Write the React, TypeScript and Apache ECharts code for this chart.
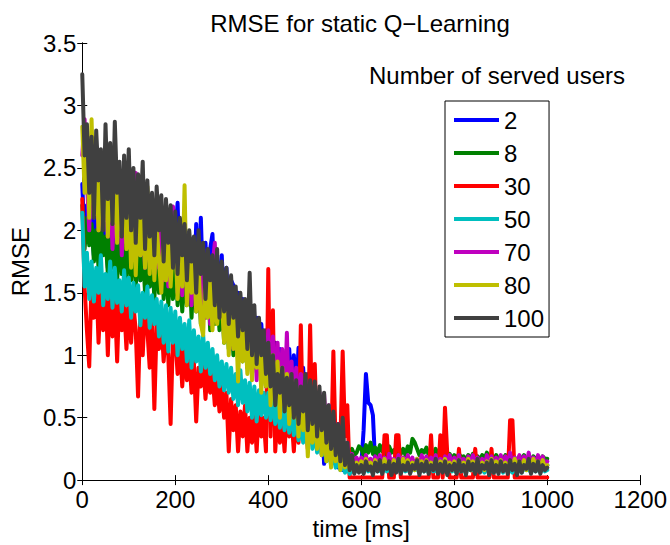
import React, { useEffect, useRef } from "react";
import * as echarts from "echarts";

// time grid (ms), one sample every 5 ms from 0 to 1000
const times: number[] = Array.from({ length: 201 }, (_, i) => i * 5);

const seriesNames = ["2", "8", "30", "50", "70", "80", "100"];
const seriesColors = ["#0000ff", "#008000", "#ff0000", "#00bfbf", "#bf00bf", "#bfbf00", "#404040"];

const xTicks = [0, 200, 400, 600, 800, 1000, 1200];
const yTicks = [0, 0.5, 1, 1.5, 2, 2.5, 3, 3.5];

const users2 = [
  2.37, 1.9, 2.2, 2.0, 2.15, 1.8, 2.1, 1.75, 2.2, 1.85, 2.05, 1.7, 2.1, 1.8, 2.0, 1.65, 2.05, 1.75, 1.95, 1.7,
  2.1, 1.7, 2.0, 1.75, 1.95, 1.6, 2.05, 1.65, 1.95, 1.55, 2.0, 1.6, 1.9, 1.65, 1.95, 1.55, 1.9, 1.5, 2.0, 1.6,
  1.95, 2.22, 1.6, 1.9, 1.5, 1.98, 1.55, 1.85, 1.45, 2.05, 1.5, 2.1, 1.5, 1.9, 1.4, 1.85, 1.97, 1.45, 1.8, 1.4,
  1.8, 1.35, 1.7, 1.3, 1.6, 1.56, 1.25, 1.5, 1.2, 1.45, 1.15, 1.4, 1.1, 1.35, 1.05, 1.3, 1.0, 1.25, 0.95, 1.2,
  0.9, 1.15, 0.85, 1.1, 0.8, 1.05, 0.75, 1.0, 0.7, 1.05, 0.7, 1.0, 0.65, 1.06, 0.6, 0.9, 0.55, 0.85, 0.5, 0.8,
  0.5, 0.7, 0.4, 0.6, 0.13, 0.45, 0.3, 0.4, 0.15, 0.3, 0.1, 0.25, 0.08, 0.2, 0.1, 0.15, 0.08, 0.12, 0.1, 0.11,
  0.12, 0.4, 0.85, 0.62, 0.6, 0.52, 0.12, 0.1, 0.13, 0.11, 0.12, 0.1, 0.13, 0.11, 0.12, 0.1, 0.13, 0.11, 0.12, 0.1,
  0.12, 0.1, 0.13, 0.11, 0.12, 0.1, 0.14, 0.11, 0.12, 0.1, 0.13, 0.11, 0.12, 0.1, 0.13, 0.11, 0.12, 0.1, 0.14, 0.11,
  0.13, 0.1, 0.12, 0.11, 0.14, 0.1, 0.12, 0.11, 0.13, 0.1, 0.12, 0.11, 0.13, 0.1, 0.14, 0.11, 0.12, 0.1, 0.13, 0.11,
  0.12, 0.11, 0.13, 0.1, 0.12, 0.11, 0.14, 0.1, 0.12, 0.11, 0.13, 0.1, 0.12, 0.11, 0.13, 0.1, 0.14, 0.11, 0.12, 0.1,
  0.12,
];

const users8 = [
  2.2, 1.85, 2.1, 1.88, 2.05, 1.75, 2.0, 1.7, 2.05, 1.8, 1.95, 1.65, 2.0, 1.7, 1.9, 1.6, 1.95, 1.65, 1.9, 1.6,
  2.0, 1.6, 1.95, 1.55, 1.9, 1.6, 1.85, 1.5, 1.9, 1.55, 1.85, 1.45, 1.8, 1.5, 1.85, 1.45, 1.8, 1.4, 1.75, 1.45,
  1.8, 1.4, 1.75, 1.35, 1.7, 1.4, 1.75, 1.3, 1.7, 1.35, 1.65, 1.25, 1.6, 1.3, 1.65, 1.2, 1.6, 1.25, 1.55, 1.2,
  1.5, 1.1, 1.45, 1.05, 1.4, 1.0, 1.35, 1.05, 1.3, 0.95, 1.25, 0.9, 1.2, 0.85, 1.15, 0.9, 1.1, 0.8, 1.05, 0.75,
  1.1, 0.7, 1.0, 0.65, 0.95, 0.6, 0.9, 0.55, 0.85, 0.5, 0.8, 0.45, 0.75, 0.5, 0.7, 0.4, 0.65, 0.35, 0.6, 0.4,
  0.6, 0.3, 0.55, 0.25, 0.5, 0.2, 0.45, 0.15, 0.4, 0.2, 0.3, 0.15, 0.25, 0.2, 0.22, 0.18, 0.25, 0.2, 0.22, 0.27,
  0.25, 0.2, 0.28, 0.22, 0.3, 0.21, 0.26, 0.2, 0.28, 0.23, 0.25, 0.2, 0.27, 0.22, 0.24, 0.2, 0.26, 0.21, 0.25, 0.2,
  0.27, 0.22, 0.33, 0.3, 0.25, 0.2, 0.24, 0.22, 0.26, 0.2, 0.23, 0.19, 0.25, 0.2, 0.22, 0.18, 0.23, 0.19, 0.21, 0.17,
  0.2, 0.17, 0.21, 0.18, 0.19, 0.16, 0.2, 0.17, 0.21, 0.18, 0.19, 0.16, 0.2, 0.17, 0.22, 0.18, 0.19, 0.16, 0.2, 0.17,
  0.18, 0.16, 0.2, 0.17, 0.19, 0.16, 0.18, 0.15, 0.19, 0.17, 0.2, 0.16, 0.18, 0.15, 0.19, 0.17, 0.18, 0.16, 0.19, 0.17,
  0.17,
];

const users30 = [
  2.25, 1.55, 1.2, 0.91, 1.6, 1.3, 1.65, 1.1, 1.5, 1.2, 1.55, 1.0, 1.6, 1.15, 1.45, 0.95, 1.5, 1.2, 1.4, 1.05,
  1.45, 1.1, 1.4, 1.2, 0.67, 1.35, 1.0, 1.4, 1.2, 0.9, 1.3, 0.57, 1.25, 1.05, 1.3, 0.95, 1.2, 1.0, 0.45, 1.15,
  1.15, 0.85, 1.1, 0.75, 1.05, 0.8, 1.0, 0.7, 0.95, 0.47, 0.9, 0.75, 0.95, 0.65, 0.9, 0.7, 0.85, 0.6, 0.8, 0.55,
  0.75, 0.5, 0.7, 0.23, 0.65, 0.4, 0.6, 0.23, 0.55, 0.35, 0.6, 0.23, 0.5, 0.3, 0.55, 0.23, 0.6, 0.35, 0.5, 0.23,
  1.69, 0.35, 1.36, 0.23, 0.55, 0.3, 0.5, 0.23, 0.6, 0.35, 0.5, 0.23, 0.55, 0.3, 1.24, 0.35, 0.5, 0.25, 1.24, 0.3,
  0.93, 0.3, 0.55, 0.2, 0.5, 0.3, 0.45, 0.2, 1.03, 0.25, 0.4, 0.3, 1.03, 0.35, 0.6, 0.02, 0.02, 0.02, 0.02, 0.02,
  0.02, 0.02, 0.02, 0.02, 0.02, 0.02, 0.02, 0.02, 0.02, 0.02, 0.36, 0.36, 0.02, 0.02, 0.02, 0.36, 0.36, 0.02, 0.02, 0.02,
  0.02, 0.02, 0.02, 0.02, 0.02, 0.02, 0.02, 0.02, 0.02, 0.02, 0.36, 0.02, 0.02, 0.02, 0.36, 0.02, 0.58, 0.2, 0.02, 0.02,
  0.02, 0.02, 0.25, 0.02, 0.02, 0.02, 0.02, 0.02, 0.02, 0.25, 0.02, 0.02, 0.02, 0.02, 0.02, 0.02, 0.25, 0.02, 0.02, 0.02,
  0.02, 0.02, 0.02, 0.02, 0.48, 0.48, 0.02, 0.02, 0.02, 0.02, 0.02, 0.02, 0.02, 0.02, 0.02, 0.02, 0.02, 0.02, 0.02, 0.02,
  0.02,
];

const users50 = [
  2.14, 1.55, 1.82, 1.45, 1.75, 1.43, 1.7, 1.5, 1.8, 1.4, 1.65, 1.45, 1.75, 1.38, 1.7, 1.42, 1.6, 1.35, 1.68, 1.4,
  1.62, 1.3, 1.58, 1.35, 1.56, 1.24, 1.5, 1.3, 1.55, 1.22, 1.48, 1.25, 1.45, 1.15, 1.43, 1.1, 1.4, 1.03, 1.38, 1.1,
  1.35, 1.0, 1.3, 1.05, 1.25, 0.95, 1.28, 0.9, 1.2, 0.95, 1.15, 0.87, 1.16, 0.9, 1.1, 0.85, 1.05, 0.8, 1.0, 0.75,
  0.95, 0.72, 0.93, 0.7, 0.9, 0.65, 0.85, 0.6, 0.88, 0.62, 0.8, 0.55, 0.78, 0.5, 0.75, 0.47, 0.72, 0.52, 0.7, 0.5,
  0.7, 0.48, 0.68, 0.45, 0.65, 0.42, 0.62, 0.4, 0.6, 0.38, 0.58, 0.36, 0.55, 0.32, 0.5, 0.3, 0.48, 0.28, 0.45, 0.25,
  0.42, 0.22, 0.38, 0.2, 0.3, 0.15, 0.25, 0.12, 0.2, 0.1, 0.15, 0.08, 0.12, 0.06, 0.1, 0.05, 0.09, 0.06, 0.1, 0.07,
  0.08, 0.06, 0.1, 0.07, 0.09, 0.06, 0.11, 0.07, 0.08, 0.06, 0.1, 0.07, 0.09, 0.06, 0.1, 0.08, 0.09, 0.06, 0.1, 0.07,
  0.09, 0.06, 0.1, 0.08, 0.09, 0.06, 0.11, 0.07, 0.09, 0.06, 0.1, 0.07, 0.08, 0.06, 0.1, 0.07, 0.09, 0.06, 0.11, 0.07,
  0.08, 0.06, 0.1, 0.07, 0.09, 0.06, 0.1, 0.08, 0.09, 0.06, 0.11, 0.07, 0.09, 0.06, 0.1, 0.07, 0.08, 0.06, 0.1, 0.07,
  0.09, 0.06, 0.11, 0.07, 0.08, 0.06, 0.1, 0.07, 0.09, 0.06, 0.1, 0.08, 0.09, 0.06, 0.1, 0.07, 0.09, 0.06, 0.1, 0.07,
  0.08,
];

const users70 = [
  2.6, 2.89, 2.4, 2.0, 2.55, 2.2, 2.45, 2.0, 2.5, 2.11, 2.4, 1.95, 2.45, 1.85, 2.35, 2.05, 2.4, 1.8, 2.3, 1.9,
  2.3, 1.85, 2.25, 2.46, 2.2, 1.8, 2.15, 1.7, 2.2, 1.75, 2.1, 1.65, 2.15, 1.7, 2.05, 1.6, 2.1, 1.55, 1.93, 2.19,
  2.05, 1.5, 2.0, 1.48, 1.95, 1.55, 1.9, 1.4, 1.85, 1.45, 1.8, 1.35, 1.85, 1.3, 1.75, 1.25, 1.7, 1.9, 1.45, 1.66,
  1.6, 1.15, 1.55, 1.1, 1.5, 1.05, 1.45, 0.95, 1.4, 1.0, 1.35, 0.9, 1.3, 0.85, 1.25, 0.8, 1.2, 0.85, 1.15, 0.75,
  1.2, 0.75, 1.15, 0.7, 1.1, 0.65, 1.05, 0.6, 1.18, 0.55, 0.95, 0.6, 0.9, 0.5, 0.85, 0.74, 0.8, 0.45, 0.75, 0.5,
  0.72, 0.4, 0.7, 0.35, 0.69, 0.3, 0.6, 0.25, 0.5, 0.2, 0.45, 0.15, 0.35, 0.12, 0.3, 0.1, 0.21, 0.1, 0.18, 0.12,
  0.18, 0.1, 0.2, 0.12, 0.17, 0.1, 0.19, 0.11, 0.2, 0.12, 0.18, 0.1, 0.21, 0.11, 0.17, 0.12, 0.2, 0.1, 0.18, 0.11,
  0.2, 0.12, 0.18, 0.1, 0.17, 0.11, 0.2, 0.12, 0.19, 0.1, 0.18, 0.12, 0.2, 0.11, 0.17, 0.1, 0.19, 0.12, 0.2, 0.11,
  0.18, 0.1, 0.2, 0.12, 0.17, 0.11, 0.19, 0.1, 0.2, 0.12, 0.18, 0.11, 0.17, 0.1, 0.2, 0.12, 0.19, 0.11, 0.18, 0.1,
  0.2, 0.12, 0.19, 0.1, 0.22, 0.11, 0.18, 0.12, 0.2, 0.1, 0.19, 0.11, 0.22, 0.12, 0.18, 0.1, 0.2, 0.11, 0.19, 0.12,
  0.15,
];

const users80 = [
  2.83, 2.3, 2.75, 2.1, 2.89, 2.2, 2.6, 2.0, 2.5, 2.15, 2.45, 1.95, 2.55, 2.07, 2.4, 1.9, 2.45, 2.0, 2.35, 1.85,
  2.3, 1.7, 2.25, 1.64, 2.2, 1.8, 2.15, 1.7, 2.35, 1.65, 2.1, 1.6, 2.05, 1.75, 1.5, 1.95, 1.6, 2.0, 1.55, 1.9,
  1.95, 1.45, 1.9, 1.55, 2.36, 1.4, 1.85, 1.5, 1.8, 1.35, 1.75, 1.25, 1.16, 1.7, 1.3, 1.6, 1.2, 1.55, 1.25, 1.5,
  1.45, 1.1, 1.5, 1.0, 1.4, 1.05, 1.35, 0.79, 1.3, 0.95, 1.25, 0.85, 1.3, 0.8, 1.2, 0.9, 1.15, 0.7, 1.1, 0.75,
  1.05, 0.6, 1.0, 0.7, 0.95, 0.5, 0.9, 0.6, 0.85, 0.45, 0.8, 0.5, 0.75, 0.35, 0.7, 0.4, 0.65, 0.19, 0.6, 0.3,
  0.6, 0.25, 0.55, 0.2, 0.5, 0.15, 0.45, 0.1, 0.4, 0.15, 0.3, 0.08, 0.25, 0.1, 0.18, 0.08, 0.15, 0.1, 0.14, 0.08,
  0.15, 0.09, 0.17, 0.1, 0.14, 0.08, 0.16, 0.11, 0.15, 0.07, 0.17, 0.1, 0.14, 0.09, 0.16, 0.08, 0.15, 0.11, 0.17, 0.09,
  0.16, 0.09, 0.14, 0.08, 0.17, 0.1, 0.15, 0.08, 0.16, 0.09, 0.14, 0.1, 0.16, 0.08, 0.15, 0.09, 0.17, 0.1, 0.14, 0.08,
  0.15, 0.08, 0.16, 0.1, 0.14, 0.09, 0.17, 0.08, 0.15, 0.1, 0.16, 0.09, 0.14, 0.08, 0.15, 0.1, 0.17, 0.09, 0.15, 0.08,
  0.16, 0.09, 0.14, 0.08, 0.15, 0.1, 0.17, 0.09, 0.15, 0.1, 0.16, 0.08, 0.14, 0.09, 0.17, 0.1, 0.15, 0.08, 0.16, 0.1,
  0.12,
];

const users100 = [
  3.25, 2.6, 2.85, 2.3, 2.75, 2.1, 2.8, 2.4, 2.65, 2.0, 2.85, 2.25, 2.7, 2.05, 2.87, 2.3, 2.55, 1.95, 2.6, 2.1,
  2.65, 2.0, 2.5, 1.9, 2.45, 2.1, 2.55, 1.85, 2.4, 1.95, 2.3, 1.8, 2.35, 2.0, 2.28, 1.75, 2.25, 1.9, 2.2, 1.7,
  2.15, 1.65, 2.1, 1.8, 2.05, 1.6, 2.0, 1.75, 1.95, 1.5, 2.0, 1.65, 1.9, 1.45, 1.85, 1.6, 1.8, 1.4, 1.85, 1.3,
  1.75, 1.35, 1.7, 1.25, 1.64, 1.3, 1.55, 1.15, 1.5, 1.2, 1.45, 1.05, 1.66, 1.0, 1.4, 0.93, 1.3, 1.0, 1.2, 0.85,
  1.1, 0.75, 1.0, 0.6, 0.85, 0.7, 0.9, 0.55, 0.82, 0.6, 0.85, 0.5, 0.8, 0.45, 0.75, 0.55, 0.85, 0.4, 0.8, 0.45,
  0.79, 0.35, 0.75, 0.4, 0.7, 0.3, 0.6, 0.25, 0.55, 0.2, 0.45, 0.15, 0.5, 0.12, 0.3, 0.08, 0.2, 0.05, 0.12, 0.06,
  0.12, 0.05, 0.15, 0.08, 0.11, 0.04, 0.14, 0.07, 0.16, 0.05, 0.12, 0.09, 0.15, 0.04, 0.13, 0.06, 0.17, 0.05, 0.12, 0.08,
  0.14, 0.05, 0.12, 0.09, 0.16, 0.04, 0.13, 0.07, 0.15, 0.05, 0.12, 0.08, 0.17, 0.05, 0.13, 0.06, 0.15, 0.04, 0.12, 0.08,
  0.13, 0.05, 0.16, 0.07, 0.12, 0.04, 0.15, 0.08, 0.13, 0.05, 0.17, 0.06, 0.12, 0.09, 0.14, 0.04, 0.16, 0.06, 0.12, 0.05,
  0.15, 0.07, 0.12, 0.05, 0.16, 0.08, 0.13, 0.04, 0.15, 0.06, 0.12, 0.09, 0.17, 0.05, 0.13, 0.07, 0.15, 0.05, 0.12, 0.08,
  0.1,
];

const seriesValues = [users2, users8, users30, users50, users70, users80, users100];

const FONT = "'Liberation Sans', Arial, Helvetica, sans-serif";

export default function App() {
  const ref = useRef<HTMLDivElement>(null);

  useEffect(() => {
    if (!ref.current) return;
    const chart = echarts.init(ref.current, undefined, { renderer: "svg" });

    const axisLine = { show: true, lineStyle: { color: "#000", width: 1 } };
    const axisTick = { show: true, inside: true, length: 5, lineStyle: { color: "#000", width: 1 } };

    const option: any = {
      animation: false,
      textStyle: { fontFamily: FONT },
      grid: { left: 78, right: 28, top: 43, bottom: 61, containLabel: false },
      graphic: [
        {
          type: "text",
          x: 360,
          y: 23,
          silent: true,
          style: {
            text: "RMSE for static Q\u2212Learning",
            fill: "#000",
            fontSize: 24,
            fontFamily: FONT,
            align: "center",
            verticalAlign: "middle",
          },
        },
        {
          type: "text",
          x: 497,
          y: 75,
          silent: true,
          style: {
            text: "Number of served users",
            fill: "#000",
            fontSize: 24,
            fontFamily: FONT,
            align: "center",
            verticalAlign: "middle",
          },
        },
      ],
      legend: {
        orient: "vertical",
        left: 445,
        top: 101,
        data: seriesNames,
        icon: "rect",
        itemWidth: 45,
        itemHeight: 4,
        itemGap: 9,
        padding: [7, 5, 7, 9],
        borderColor: "#000",
        borderWidth: 1,
        backgroundColor: "#fff",
        selectedMode: false,
        textStyle: { fontSize: 24, color: "#000", fontFamily: FONT },
      },
      xAxis: [
        {
          type: "value",
          min: 0,
          max: 1200,
          interval: 200,
          position: "bottom",
          axisLine,
          axisTick,
          splitLine: { show: false },
          axisLabel: {
            color: "#000",
            fontSize: 24,
            fontFamily: FONT,
            margin: 7,
            formatter: (v: number) => (xTicks.includes(v) ? String(v) : ""),
          },
          name: "time [ms]",
          nameLocation: "middle",
          nameGap: 31,
          nameTextStyle: { color: "#000", fontSize: 24, fontFamily: FONT },
        },
        {
          type: "value",
          min: 0,
          max: 1200,
          interval: 200,
          position: "top",
          axisLine,
          axisTick,
          splitLine: { show: false },
          axisLabel: { show: false },
        },
      ],
      yAxis: [
        {
          type: "value",
          min: 0,
          max: 3.5,
          interval: 0.5,
          position: "left",
          axisLine,
          axisTick,
          splitLine: { show: false },
          axisLabel: {
            color: "#000",
            fontSize: 24,
            fontFamily: FONT,
            margin: 6,
            formatter: (v: number) => (yTicks.includes(v) ? String(v) : ""),
          },
          name: "RMSE",
          nameLocation: "middle",
          nameGap: 48,
          nameTextStyle: { color: "#000", fontSize: 24, fontFamily: FONT },
        },
        {
          type: "value",
          min: 0,
          max: 3.5,
          interval: 0.5,
          position: "right",
          axisLine,
          axisTick,
          splitLine: { show: false },
          axisLabel: { show: false },
        },
      ],
      series: seriesNames.map((name, k) => ({
        name,
        type: "line",
        xAxisIndex: 0,
        yAxisIndex: 0,
        showSymbol: false,
        symbol: "none",
        silent: true,
        data: times.map((t, i) => [t, seriesValues[k][i]]),
        itemStyle: { color: seriesColors[k] },
        lineStyle: { color: seriesColors[k], width: 4, cap: "round", join: "round" },
        emphasis: { disabled: true },
      })),
    };

    chart.setOption(option);
    return () => chart.dispose();
  }, []);

  return (
    <div
      ref={ref}
      style={{ position: "fixed", left: 0, top: 0, width: 670, height: 545, background: "#fff" }}
    />
  );
}
